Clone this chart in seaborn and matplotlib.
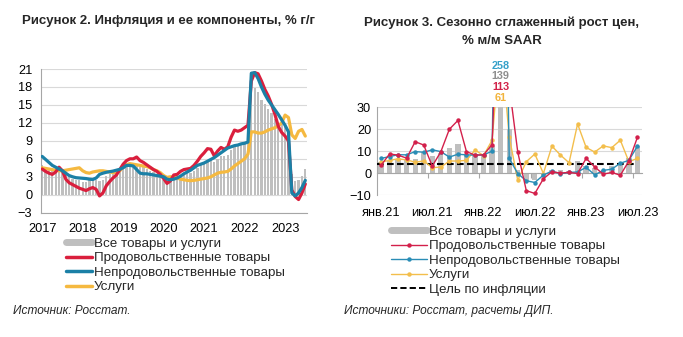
import numpy as np
import pandas as pd
import matplotlib
matplotlib.use("Agg")
import matplotlib.pyplot as plt
import seaborn as sns
from matplotlib.lines import Line2D
from matplotlib.ticker import FixedLocator

# ---------------- data: left chart (y/y, monthly Jan 2017 - Jul 2023) ----------------
year_labels = ["2017", "2018", "2019", "2020", "2021", "2022", "2023"]
all_yoy = [5.0, 4.6, 4.3, 4.1, 4.1, 4.4, 3.9, 3.3, 3.0, 2.7, 2.5, 2.5,
           2.2, 2.2, 2.4, 2.4, 2.4, 2.3, 2.5, 3.1, 3.4, 3.5, 3.8, 4.3,
           5.0, 5.2, 5.3, 5.2, 5.1, 4.7, 4.6, 4.3, 4.0, 3.8, 3.5, 3.0,
           2.4, 2.3, 2.5, 3.1, 3.0, 3.2, 3.4, 3.6, 3.7, 4.0, 4.4, 4.9,
           5.2, 5.7, 5.8, 5.5, 6.0, 6.5, 6.5, 6.7, 7.4, 8.1, 8.4, 8.4,
           8.7, 9.2, 16.7, 17.8, 17.1, 15.9, 15.1, 14.3, 13.7, 12.6, 12.0, 11.9,
           11.8, 11.0, 3.5, 2.3, 2.5, 3.2, 4.3]
food_yoy = [4.3, 3.9, 3.6, 3.4, 3.8, 4.6, 4.0, 2.6, 2.0, 1.7, 1.4, 1.1,
            0.9, 0.7, 1.0, 1.2, 0.9, -0.2, 0.3, 1.5, 2.2, 2.8, 3.3, 4.2,
            5.1, 5.7, 6.0, 6.0, 6.3, 5.7, 5.4, 5.0, 4.6, 4.2, 3.9, 3.4,
            2.7, 1.9, 2.3, 3.3, 3.4, 3.9, 4.2, 4.3, 4.4, 4.9, 5.6, 6.4,
            7.0, 7.7, 7.6, 6.5, 7.3, 7.9, 7.6, 8.0, 9.6, 10.8, 10.6, 10.8,
            11.2, 11.6, 19.0, 20.4, 20.2, 19.0, 17.6, 16.5, 15.1, 13.4, 11.4, 10.4,
            9.8, 9.0, 0.8, -0.3, -0.8, 0.3, 1.8]
nonfood_yoy = [6.4, 5.9, 5.4, 4.9, 4.6, 4.3, 4.0, 3.6, 3.2, 3.0, 2.85, 2.8,
               2.75, 2.7, 2.6, 2.55, 2.8, 3.4, 3.6, 3.75, 3.85, 3.95, 4.1, 4.25,
               4.5, 4.9, 4.9, 4.8, 4.2, 3.6, 3.5, 3.5, 3.4, 3.3, 3.2, 3.1,
               3.0, 2.6, 2.5, 2.6, 2.8, 3.1, 3.5, 3.8, 4.1, 4.5, 4.9, 5.1,
               5.3, 5.6, 5.9, 6.2, 6.6, 7.0, 7.4, 7.8, 8.0, 8.2, 8.3, 8.5,
               8.6, 8.8, 20.3, 20.4, 19.4, 18.0, 16.8, 15.8, 15.0, 14.2, 13.4, 12.5,
               11.6, 10.5, 0.3, -0.2, 0.3, 1.2, 2.4]
services_yoy = [4.5, 4.4, 4.3, 4.2, 4.1, 4.0, 4.0, 4.1, 4.2, 4.3, 4.4, 4.5,
                4.0, 3.7, 3.6, 3.8, 3.9, 4.0, 4.0, 3.9, 3.8, 3.7, 3.7, 4.0,
                4.6, 5.0, 5.2, 5.1, 5.0, 4.9, 4.8, 4.7, 4.5, 4.2, 4.0, 3.7,
                3.2, 2.9, 3.0, 3.0, 2.8, 2.6, 2.5, 2.4, 2.35, 2.4, 2.5, 2.6,
                2.7, 2.8, 3.0, 3.3, 3.6, 3.75, 3.8, 3.9, 4.3, 4.8, 5.2, 5.6,
                6.0, 6.8, 10.5, 10.5, 10.3, 10.3, 10.5, 10.8, 11.0, 11.2, 11.5, 12.0,
                13.3, 12.9, 10.0, 9.4, 10.6, 10.9, 9.8]

# ---------------- data: right chart (% m/m SAAR, Jan 2021 - Jul 2023) ----------------
month_labels = ["янв.21", "июл.21", "янв.22", "июл.22", "янв.23", "июл.23"]
all_saar = [5.0, 5.5, 6.0, 6.0, 6.5, 9.8, 7.8, 9.0, 11.5, 13.3, 8.8, 8.8, 8.5, 12.5,
            139, 20, 1.5, -4.0, -3.3, -0.8, 1.2, 1.5, 1.0, 5.5, 3.0, 2.2, 1.5, 3.0, 4.3, 7.0, 12.5]
food_saar = [3.5, 8.7, 8.2, 6.8, 14.3, 12.8, 3.2, 9.7, 20.0, 24.0, 9.8, 8.2, 8.3, 13.0,
             113, 40, 9.6, -8.0, -9.3, -2.6, 0.6, 0.0, 0.3, -0.2, 6.7, 2.8, -0.5, 0.3, -1.0, 5.5, 16.3]
nonfood_saar = [6.7, 7.5, 8.4, 8.3, 9.8, 9.5, 10.6, 9.8, 7.3, 8.6, 8.3, 8.2, 8.3, 10.0,
                258, 6.7, -0.2, -3.5, -4.3, -0.9, 0.9, -0.3, 0.3, 0.5, 2.6, -0.8, 1.2, 1.8, 4.5, 5.8, 12.3]
services_saar = [5.0, 5.8, 6.5, 6.0, 5.0, 5.5, 2.5, 2.7, 5.5, 5.5, 5.8, 10.5, 8.0, 15.0,
                 61, 16.6, -3.3, 5.2, 8.7, -0.2, 12.3, 8.2, 4.7, 22.4, 11.7, 9.6, 12.4, 11.6, 15.0, 5.2, 6.7]
inflation_target = 4.0

leg_left = ["Все товары и услуги", "Продовольственные товары", "Непродовольственные товары", "Услуги"]
leg_right = leg_left + ["Цель по инфляции"]

# ---------------- style ----------------
sns.set_theme(style="white")
plt.rcParams["font.family"] = ["Liberation Sans", "DejaVu Sans"]

GREY = "#BFBFBF"
RED1, BLUE1, YEL1 = "#DA1F3D", "#1B80A6", "#F5B940"
RED2, BLUE2, YEL2 = "#D3204B", "#2A8DB6", "#F3BE4C"
AX = "#A6A6A6"
GRID = "#D9D9D9"
FS = 9.2
LFS = 9.6

W, H = 683, 337
fig = plt.figure(figsize=(W / 100, H / 100), dpi=100)
fig.patch.set_facecolor("white")


def rect(l, r, t, b):
    return [l / W, 1 - b / H, (r - l) / W, (b - t) / H]


# ================= left chart =================
ax1 = fig.add_axes(rect(40.5, 307, 69, 212.7))
df1 = pd.DataFrame({"m": np.arange(len(all_yoy)), "all": all_yoy, "food": food_yoy,
                    "nonfood": nonfood_yoy, "serv": services_yoy})
sns.barplot(data=df1, x="m", y="all", native_scale=True, color=GREY, width=0.68,
            saturation=1, errorbar=None, linewidth=0, ax=ax1, zorder=2)
for col, c in [("serv", YEL1), ("food", RED1), ("nonfood", BLUE1)]:
    sns.lineplot(data=df1, x="m", y=col, color=c, lw=2.3, ax=ax1, zorder=3)
ax1.set_xlim(-0.5, len(all_yoy) - 0.5)
ax1.set_ylim(-3, 21)
ax1.set_yticks(np.arange(-3, 22, 3))
ax1.set_xticks(np.arange(0, 12 * len(year_labels), 12))
ax1.set_xticklabels(year_labels)
ax1.yaxis.grid(True, color=GRID, lw=0.8, zorder=0)
ax1.set_axisbelow(True)
for s in ["top", "right"]:
    ax1.spines[s].set_visible(False)
for s in ["left", "bottom"]:
    ax1.spines[s].set_color(AX)
    ax1.spines[s].set_linewidth(0.8)
ax1.tick_params(axis="x", length=4, width=0.8, color=AX, pad=3.5, labelsize=FS, labelcolor="black")
ax1.tick_params(axis="y", length=0, pad=6, labelsize=FS, labelcolor="black")
ax1.set_xlabel("")
ax1.set_ylabel("")

# ================= right chart =================
ax2 = fig.add_axes(rect(376.7, 641.7, 107.3, 195))
df2 = pd.DataFrame({"m": np.arange(len(all_saar)), "all": all_saar, "food": food_saar,
                    "nonfood": nonfood_saar, "serv": services_saar})
sns.barplot(data=df2, x="m", y="all", native_scale=True, color=GREY, width=0.62,
            saturation=1, errorbar=None, linewidth=0, ax=ax2, zorder=2)
ax2.hlines(inflation_target, -0.5, len(all_saar) - 1, colors="black", linestyles=(0, (3.2, 1.6)),
           lw=1.5, zorder=3)
for col, c in [("serv", YEL2), ("nonfood", BLUE2), ("food", RED2)]:
    sns.lineplot(data=df2, x="m", y=col, color=c, lw=1.0, marker="o", markersize=3.2,
                 markeredgewidth=0, ax=ax2, zorder=4)
ax2.set_xlim(-0.5, len(all_saar) - 0.5)
ax2.set_ylim(-10, 30)
ax2.set_yticks([-10, 0, 10, 20, 30])
ax2.set_xticks(np.arange(0, len(all_saar), 6))
ax2.set_xticklabels(month_labels)
ax2.xaxis.set_minor_locator(FixedLocator(np.arange(5.5, len(all_saar), 6)))
ax2.yaxis.grid(True, color=GRID, lw=0.8, zorder=0)
ax2.set_axisbelow(True)
for s in ["top", "right"]:
    ax2.spines[s].set_visible(False)
ax2.spines["left"].set_color(AX)
ax2.spines["left"].set_linewidth(0.8)
ax2.spines["bottom"].set_position(("data", 0))
ax2.spines["bottom"].set_color(AX)
ax2.spines["bottom"].set_linewidth(0.8)
ax2.tick_params(axis="x", which="major", length=0, pad=24.5, labelsize=FS, labelcolor="black")
ax2.tick_params(axis="x", which="minor", length=3.5, width=0.8, color=AX, bottom=True)
ax2.tick_params(axis="y", length=0, pad=4, labelsize=FS, labelcolor="black")
ax2.set_xlabel("")
ax2.set_ylabel("")

# off-scale values for March 2022
k = 14
for val, c, off in [(nonfood_saar[k], "#35A0C9", 30.0), (all_saar[k], "#8E8E8E", 22.2),
                    (food_saar[k], "#D2234A", 14.4), (services_saar[k], "#F2B43C", 6.5)]:
    ax2.annotate(f"{val:.0f}", xy=(k, 1), xycoords=("data", "axes fraction"),
                 xytext=(0, off), textcoords="offset points", ha="center", va="center",
                 fontsize=7.8, fontweight="bold", color=c, annotation_clip=False)

# ================= titles, legends, sources =================
fig.text(22 / W, 1 - 21 / H, "Рисунок 2. Инфляция и ее компоненты, % г/г",
         fontsize=9.5, fontweight="bold", ha="left", va="center")
fig.text(502 / W, 1 - 23 / H, "Рисунок 3. Сезонно сглаженный рост цен,",
         fontsize=9.5, fontweight="bold", ha="center", va="center")
fig.text(502 / W, 1 - 41 / H, "% м/м SAAR",
         fontsize=9.5, fontweight="bold", ha="center", va="center")

h1 = [Line2D([0], [0], color=GREY, lw=5),
      Line2D([0], [0], color=RED1, lw=2.5),
      Line2D([0], [0], color=BLUE1, lw=2.5),
      Line2D([0], [0], color=YEL1, lw=2.5)]
fig.legend(h1, leg_left, loc="upper left", bbox_to_anchor=(66 / W, 1 - 237.5 / H),
           frameon=False, fontsize=LFS, handlelength=1.95, handletextpad=0.15,
           labelspacing=0.16, borderpad=0, borderaxespad=0)

h2 = [Line2D([0], [0], color=GREY, lw=5),
      Line2D([0], [0], color=RED2, lw=1.0, marker="o", markersize=3.2, markeredgewidth=0),
      Line2D([0], [0], color=BLUE2, lw=1.0, marker="o", markersize=3.2, markeredgewidth=0),
      Line2D([0], [0], color=YEL2, lw=1.0, marker="o", markersize=3.2, markeredgewidth=0),
      Line2D([0], [0], color="black", lw=1.4, ls=(0, (3.2, 1.6)))]
fig.legend(h2, leg_right, loc="upper left", bbox_to_anchor=(391 / W, 1 - 225.5 / H),
           frameon=False, fontsize=LFS, handlelength=2.7, handletextpad=0.15,
           labelspacing=0.16, borderpad=0, borderaxespad=0)

fig.text(13 / W, 1 - 311 / H, "Источник: Росстат.", fontsize=8.6, style="italic",
         ha="left", va="center")
fig.text(344 / W, 1 - 311 / H, "Источники: Росстат, расчеты ДИП.", fontsize=8.6,
         style="italic", ha="left", va="center")

fig.savefig("out.png", dpi=100, facecolor="white")
